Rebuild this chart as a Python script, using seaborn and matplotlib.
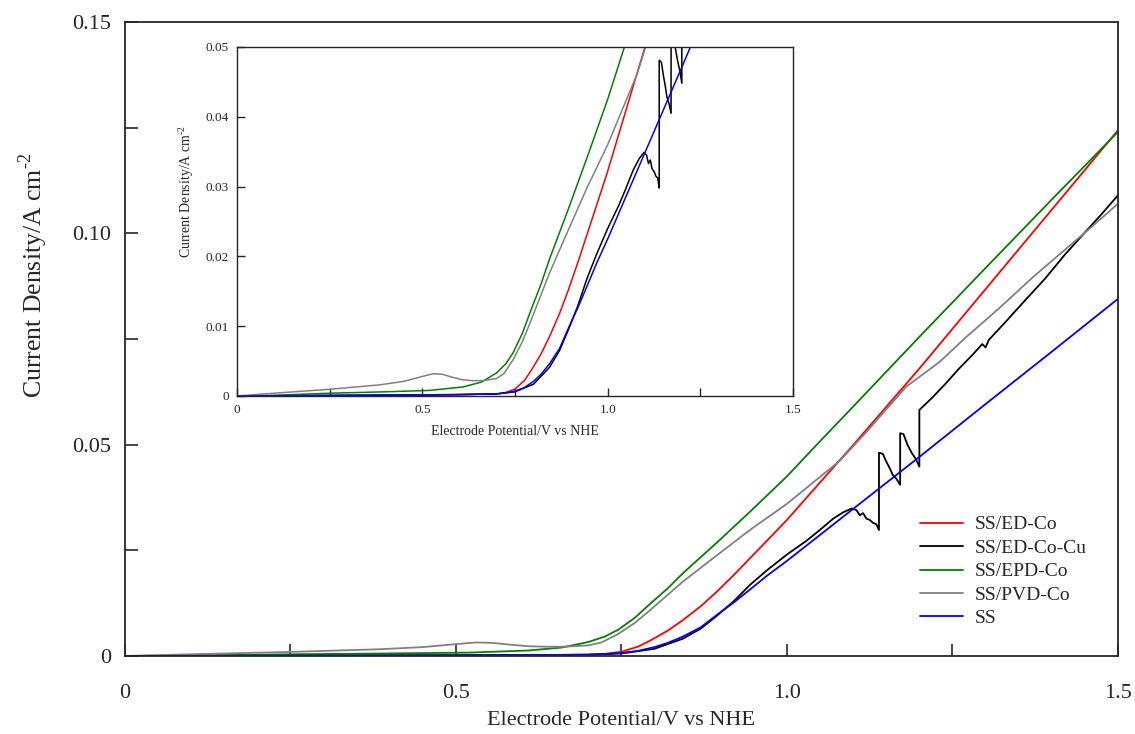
import numpy as np
import pandas as pd
import matplotlib
matplotlib.use("Agg")
import matplotlib.pyplot as plt
from matplotlib.ticker import MultipleLocator, FuncFormatter
import seaborn as sns

# values (potential in V vs NHE, current density in A cm-2)
ss_x = [0, 0.3, 0.6, 0.7, 0.72, 0.75, 0.775, 0.8, 0.82, 0.843, 0.87, 0.894, 0.92, 0.944,
        0.97, 1.0, 1.1, 1.2, 1.3, 1.4, 1.5]
ss_y = [0, 0.0001, 0.0002, 0.0003, 0.0004, 0.0007, 0.0012, 0.0021, 0.0031, 0.0046, 0.0068,
        0.0097, 0.0127, 0.0157, 0.019, 0.0225, 0.0348, 0.0471, 0.0596, 0.0720, 0.0845]

ed_x = [0, 0.5, 0.7, 0.725, 0.75, 0.775, 0.793, 0.82, 0.843, 0.87, 0.894, 0.92, 0.944,
        0.97, 1.0, 1.044, 1.095, 1.2, 1.3, 1.4, 1.5]
ed_y = [0, 0.0001, 0.0003, 0.0005, 0.001, 0.0022, 0.0036, 0.006, 0.0085, 0.0118, 0.0152,
        0.0192, 0.0231, 0.0273, 0.0322, 0.0400, 0.0490, 0.0680, 0.0868, 0.1056, 0.1244]

epd_x = [0, 0.1, 0.25, 0.4, 0.52, 0.61, 0.66, 0.70, 0.725, 0.745, 0.77, 0.793, 0.82, 0.843,
         0.894, 0.944, 1.0, 1.05, 1.1, 1.2, 1.3, 1.4, 1.5]
epd_y = [0, 0.0001, 0.0004, 0.0006, 0.0008, 0.0013, 0.002, 0.0033, 0.0046, 0.0062, 0.0090,
         0.0123, 0.0160, 0.0196, 0.0268, 0.0341, 0.0425, 0.0508, 0.0590, 0.0755, 0.0918,
         0.1080, 0.1240]

pvd_x = [0, 0.1, 0.25, 0.386, 0.45, 0.5, 0.53, 0.555, 0.58, 0.61, 0.635, 0.664, 0.70, 0.72,
         0.745, 0.77, 0.79, 0.815, 0.843, 0.894, 0.944, 1.0, 1.08, 1.12, 1.18, 1.23, 1.271,
         1.32, 1.372, 1.422, 1.46, 1.5]
pvd_y = [0, 0.0004, 0.00096, 0.0016, 0.0021, 0.0028, 0.0032, 0.0031, 0.0027, 0.0023, 0.0022,
         0.0022, 0.0025, 0.0032, 0.0052, 0.0078, 0.0104, 0.0138, 0.0176, 0.0238, 0.0298,
         0.0360, 0.0462, 0.053, 0.0637, 0.0695, 0.0755, 0.0822, 0.0897, 0.0964, 0.1015, 0.107]

cu_x = [0, 0.3, 0.6, 0.7, 0.75, 0.8, 0.843, 0.87, 0.894, 0.92, 0.944, 0.97, 1.0, 1.029,
        1.045, 1.07, 1.085, 1.098,
        1.105, 1.11, 1.115, 1.12, 1.125, 1.13, 1.135, 1.139,
        1.139, 1.145, 1.15, 1.155, 1.16, 1.165, 1.171,
        1.171, 1.176, 1.182, 1.188, 1.195, 1.2,
        1.2, 1.22, 1.24, 1.26, 1.28, 1.295, 1.3, 1.305, 1.33, 1.36, 1.39, 1.42, 1.45,
        1.475, 1.5]
cu_y = [0, 0.0001, 0.0002, 0.0003, 0.0006, 0.0017, 0.0041, 0.0065, 0.0095, 0.013, 0.0168,
        0.0203, 0.024, 0.0272, 0.0292, 0.0325, 0.034, 0.0349,
        0.0345, 0.0333, 0.0338, 0.0325, 0.0322, 0.0315, 0.0312, 0.0298,
        0.0481, 0.0478, 0.0460, 0.0445, 0.0428, 0.0420, 0.0405,
        0.0527, 0.0525, 0.0500, 0.0482, 0.0465, 0.0448,
        0.0582, 0.0612, 0.0645, 0.0680, 0.0712, 0.0738, 0.0730, 0.0748, 0.0790, 0.0842,
        0.0893, 0.0950, 0.1002, 0.1045, 0.1090]

series = [
    ("SS/ED-Co", ed_x, ed_y, "#ff0000"),
    ("SS/ED-Co-Cu", cu_x, cu_y, "#000000"),
    ("SS/EPD-Co", epd_x, epd_y, "#008000"),
    ("SS/PVD-Co", pvd_x, pvd_y, "#808080"),
    ("SS", ss_x, ss_y, "#0000ff"),
]

sns.set_style("ticks")
plt.rcParams["font.family"] = ["Liberation Serif", "DejaVu Serif"]
plt.rcParams["mathtext.fontset"] = "custom"
plt.rcParams["mathtext.rm"] = "Liberation Serif"

fig = plt.figure(figsize=(11.35, 7.34), dpi=100)
ax = fig.add_axes([0.110, 0.1063, 0.875, 0.8637])
ins = fig.add_axes([0.2088, 0.4605, 0.4899, 0.4755])

for name, xs, ys, col in series:
    sns.lineplot(x=xs, y=ys, ax=ax, color=col, label=name, lw=1.3,
                 estimator=None, sort=False)
    sns.lineplot(x=xs, y=ys, ax=ins, color=col, lw=1.1,
                 estimator=None, sort=False, legend=False)

zero_fmt = lambda fmt: FuncFormatter(lambda v, _: "0" if abs(v) < 1e-9 else fmt.format(v))
ylab = "Current Density/A cm$^{\\mathrm{\\text{-2}}}$"

# main axes
ax.set_xlim(0, 1.5)
ax.set_ylim(0, 0.15)
ax.xaxis.set_major_locator(MultipleLocator(0.5))
ax.xaxis.set_minor_locator(MultipleLocator(0.25))
ax.yaxis.set_major_locator(MultipleLocator(0.05))
ax.yaxis.set_minor_locator(MultipleLocator(0.025))
ax.xaxis.set_major_formatter(zero_fmt("{:.1f}"))
ax.yaxis.set_major_formatter(zero_fmt("{:.2f}"))
ax.tick_params(which="both", direction="in", length=9, width=1.2, labelsize=16)
ax.tick_params(axis="x", pad=20)
ax.tick_params(axis="y", pad=10)
ax.set_xlabel("Electrode Potential/V vs NHE", fontsize=16, labelpad=6)
ax.set_ylabel(ylab, fontsize=18.5)
ax.yaxis.set_label_coords(-0.075, 0.60)
for s in ax.spines.values():
    s.set_linewidth(1.3)

ax.legend(loc="upper left", bbox_to_anchor=(0.795, 0.321), bbox_transform=fig.transFigure,
          frameon=False, fontsize=14, handlelength=2.2, labelspacing=0.3,
          handletextpad=0.6)

# inset
ins.set_xlim(0, 1.5)
ins.set_ylim(0, 0.05)
ins.xaxis.set_major_locator(MultipleLocator(0.5))
ins.xaxis.set_minor_locator(MultipleLocator(0.25))
ins.yaxis.set_major_locator(MultipleLocator(0.01))
ins.xaxis.set_major_formatter(zero_fmt("{:.1f}"))
ins.yaxis.set_major_formatter(zero_fmt("{:.2f}"))
ins.tick_params(which="both", direction="in", length=6, width=1.0, labelsize=9.5, pad=6)
ins.set_xlabel("Electrode Potential/V vs NHE", fontsize=10, labelpad=6)
ins.set_ylabel(ylab, fontsize=10)
ins.yaxis.set_label_coords(-0.074, 0.585)
for s in ins.spines.values():
    s.set_linewidth(1.0)

fig.savefig("out.png", dpi=100)
